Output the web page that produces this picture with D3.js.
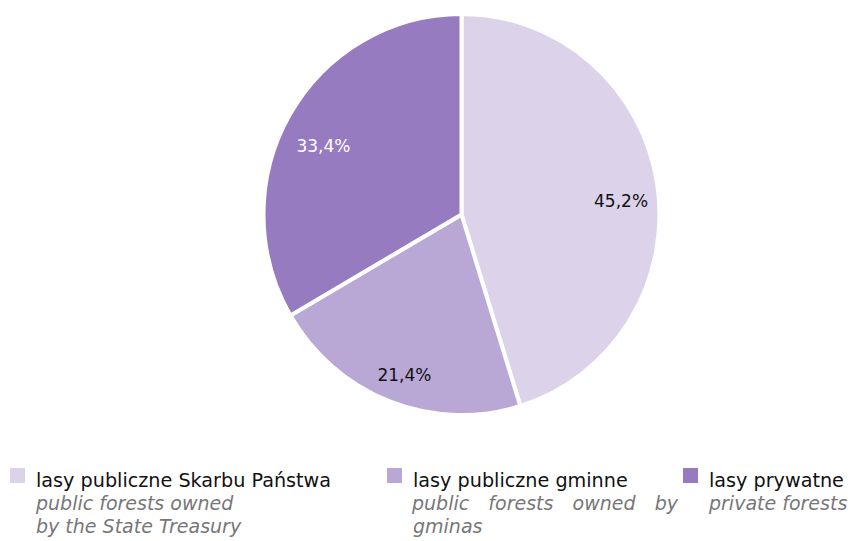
<!DOCTYPE html>
<html><head><meta charset="utf-8">
<script src="https://cdn.jsdelivr.net/npm/d3@7"></script>
<style>body{margin:0;background:#fff}svg{display:block}</style>
</head><body>
<svg id="c" width="850" height="541"></svg>
<script>
const categories = ["lasy publiczne Skarbu Państwa", "lasy publiczne gminne", "lasy prywatne"];
const subtitles = [["public forests owned", "by the State Treasury"], ["public forests owned by", "gminas"], ["private forests"]];
const values = [45.2, 21.4, 33.4];
const labels = ["45,2%", "21,4%", "33,4%"];
const colors = ["#DCD3EB", "#B9A7D6", "#967BC0"];
const labelColors = ["#111", "#111", "#fff"];

const svg = d3.select("#c");
const font = "'DejaVu Sans',sans-serif";
const cx = 461.5, cy = 214.5, R = 198;
const pie = d3.pie().sort(null).value(d => d)(values);
const arc = d3.arc().innerRadius(0).outerRadius(R);
const g = svg.append("g").attr("transform", `translate(${cx},${cy}) scale(1,1.013)`);
g.selectAll("path").data(pie).join("path")
  .attr("d", arc).attr("fill", (d, i) => colors[i])
  .attr("stroke", "#fff").attr("stroke-width", 4).attr("stroke-linejoin", "miter");
const gl = svg.append("g").attr("transform", `translate(${cx},${cy})`);
const lab = d3.arc().innerRadius(R * 0.81).outerRadius(R * 0.81);
gl.selectAll("text").data(pie).join("text")
  .attr("x", d => lab.centroid(d)[0] + 1).attr("y", d => lab.centroid(d)[1] + 11)
  .attr("text-anchor", "middle").attr("dominant-baseline", "central")
  .attr("font-family", font).attr("font-size", 17)
  .attr("fill", (d, i) => labelColors[i]).text((d, i) => labels[i]);

const legX = [10, 387, 683];
const legW = [300, 266, 140];
categories.forEach((c, i) => {
  const lg = svg.append("g").attr("transform", `translate(${legX[i]},468)`);
  lg.append("rect").attr("width", 15).attr("height", 15).attr("fill", colors[i]);
  lg.append("text").attr("x", 26).attr("y", 19).attr("font-family", font)
    .attr("font-size", 19.2).attr("fill", "#111").text(c);
  subtitles[i].forEach((line, j) => {
    const y = 42 + j * 23;
    const justify = (i === 1 && j === 0);
    if (!justify) {
      lg.append("text").attr("x", 26).attr("y", y).attr("font-family", font)
        .attr("font-size", 19).attr("font-style", "italic").attr("fill", "#777").text(line);
    } else {
      const words = line.split(" ");
      const tmp = words.map(w => lg.append("text").attr("y", y).attr("font-family", font)
        .attr("font-size", 19).attr("font-style", "italic").attr("fill", "#777").text(w));
      const ws = tmp.map(t => t.node().getComputedTextLength());
      const total = ws.reduce((a, b) => a + b, 0);
      const gap = (legW[i] - total) / (words.length - 1);
      let x = 25;
      tmp.forEach((t, k) => { t.attr("x", x); x += ws[k] + gap; });
    }
  });
});
</script>
</body></html>
